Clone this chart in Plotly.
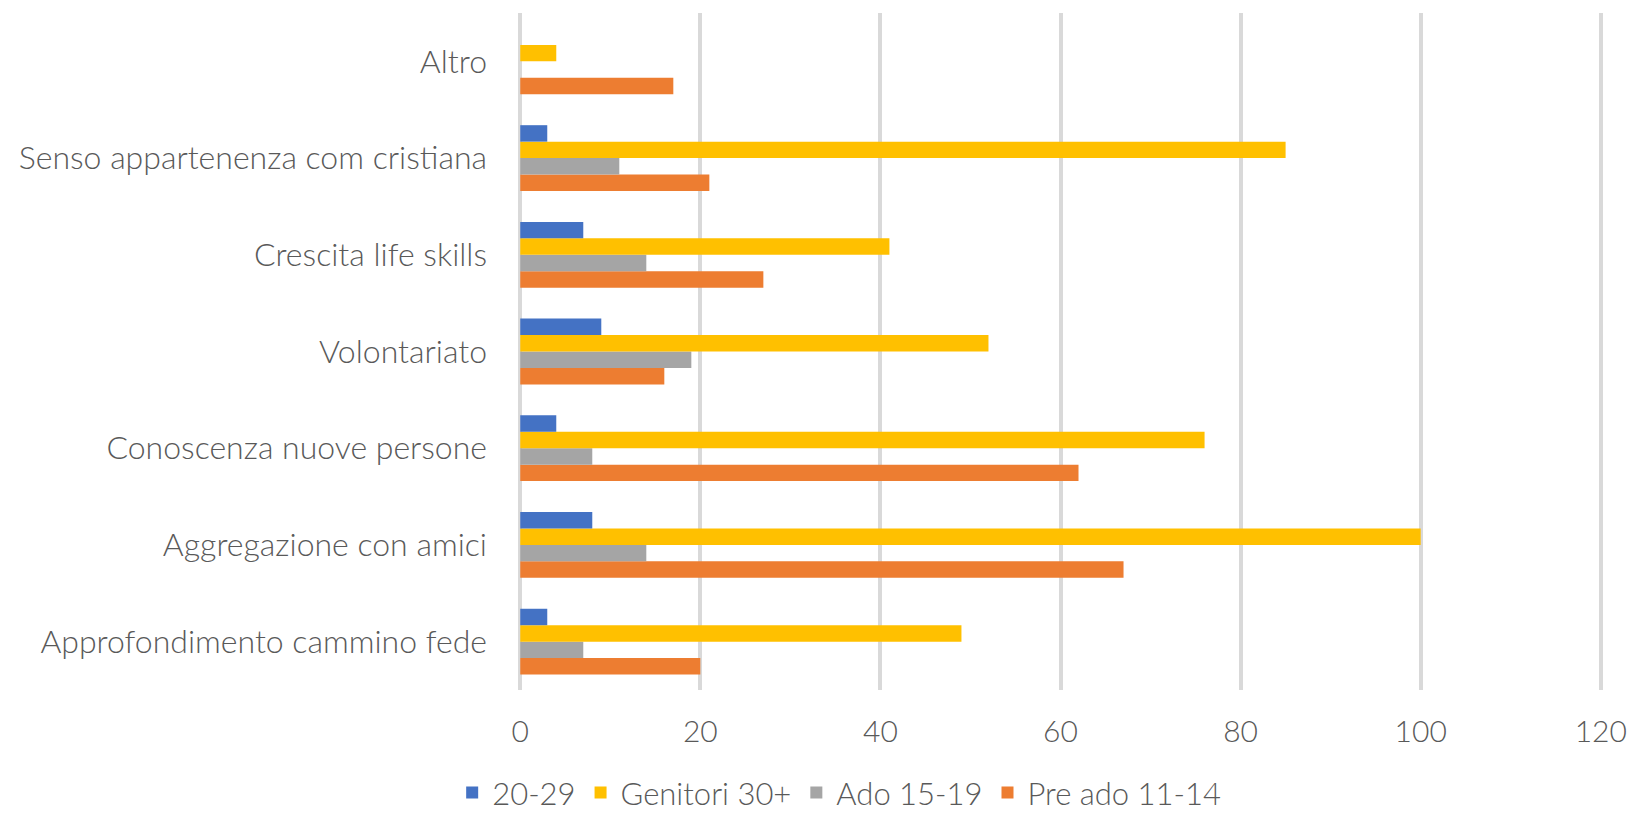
import plotly.graph_objects as go

categories = [
    "Approfondimento cammino fede",
    "Aggregazione con amici",
    "Conoscenza nuove persone",
    "Volontariato",
    "Crescita life skills",
    "Senso appartenenza com cristiana",
    "Altro",
]
s_20_29 = [3, 8, 4, 9, 7, 3, 0]
s_genitori = [49, 100, 76, 52, 41, 85, 4]
s_ado = [7, 14, 8, 19, 14, 11, 0]
s_preado = [20, 67, 62, 16, 27, 21, 17]
x_ticks = [0, 20, 40, 60, 80, 100, 120]

series = [
    ("Pre ado 11-14", s_preado, "#ED7D31"),
    ("Ado 15-19", s_ado, "#A5A5A5"),
    ("Genitori 30+", s_genitori, "#FFC000"),
    ("20-29", s_20_29, "#4472C4"),
]

fig = go.Figure()
for name, vals, col in series:
    fig.add_trace(go.Bar(
        y=categories, x=vals, name=name, orientation="h",
        marker=dict(color=col, line=dict(width=0)),
    ))

font_family = "Lato, Liberation Sans, sans-serif"
fig.update_layout(
    width=1639, height=819,
    barmode="group", bargap=0.32, bargroupgap=0,
    plot_bgcolor="white", paper_bgcolor="white",
    margin=dict(l=518, r=28, t=13, b=129),
    font=dict(family=font_family, size=30, color="#595959", weight=300),
    legend=dict(
        orientation="h", traceorder="reversed",
        xref="container", yref="container",
        x=0.512, xanchor="center", y=0.032, yanchor="middle",
        font=dict(size=31, color="#595959", weight=300),
        itemwidth=30,
    ),
    xaxis=dict(
        range=[-0.25, 120.25], tickvals=x_ticks,
        showgrid=True, gridcolor="#D9D9D9",
        gridwidth=3.5, zeroline=False, showline=False, ticks="",
        ticklabelstandoff=21,
        tickfont=dict(size=30),
    ),
    yaxis=dict(
        showgrid=False, showline=False, ticks="", zeroline=False,
        ticklabelstandoff=30,
        tickfont=dict(size=32),
    ),
)
fig.write_html(
    "out.html",
    config={"displayModeBar": False},
    post_script="document.body.style.margin='0';document.body.style.overflow='hidden';",
)
